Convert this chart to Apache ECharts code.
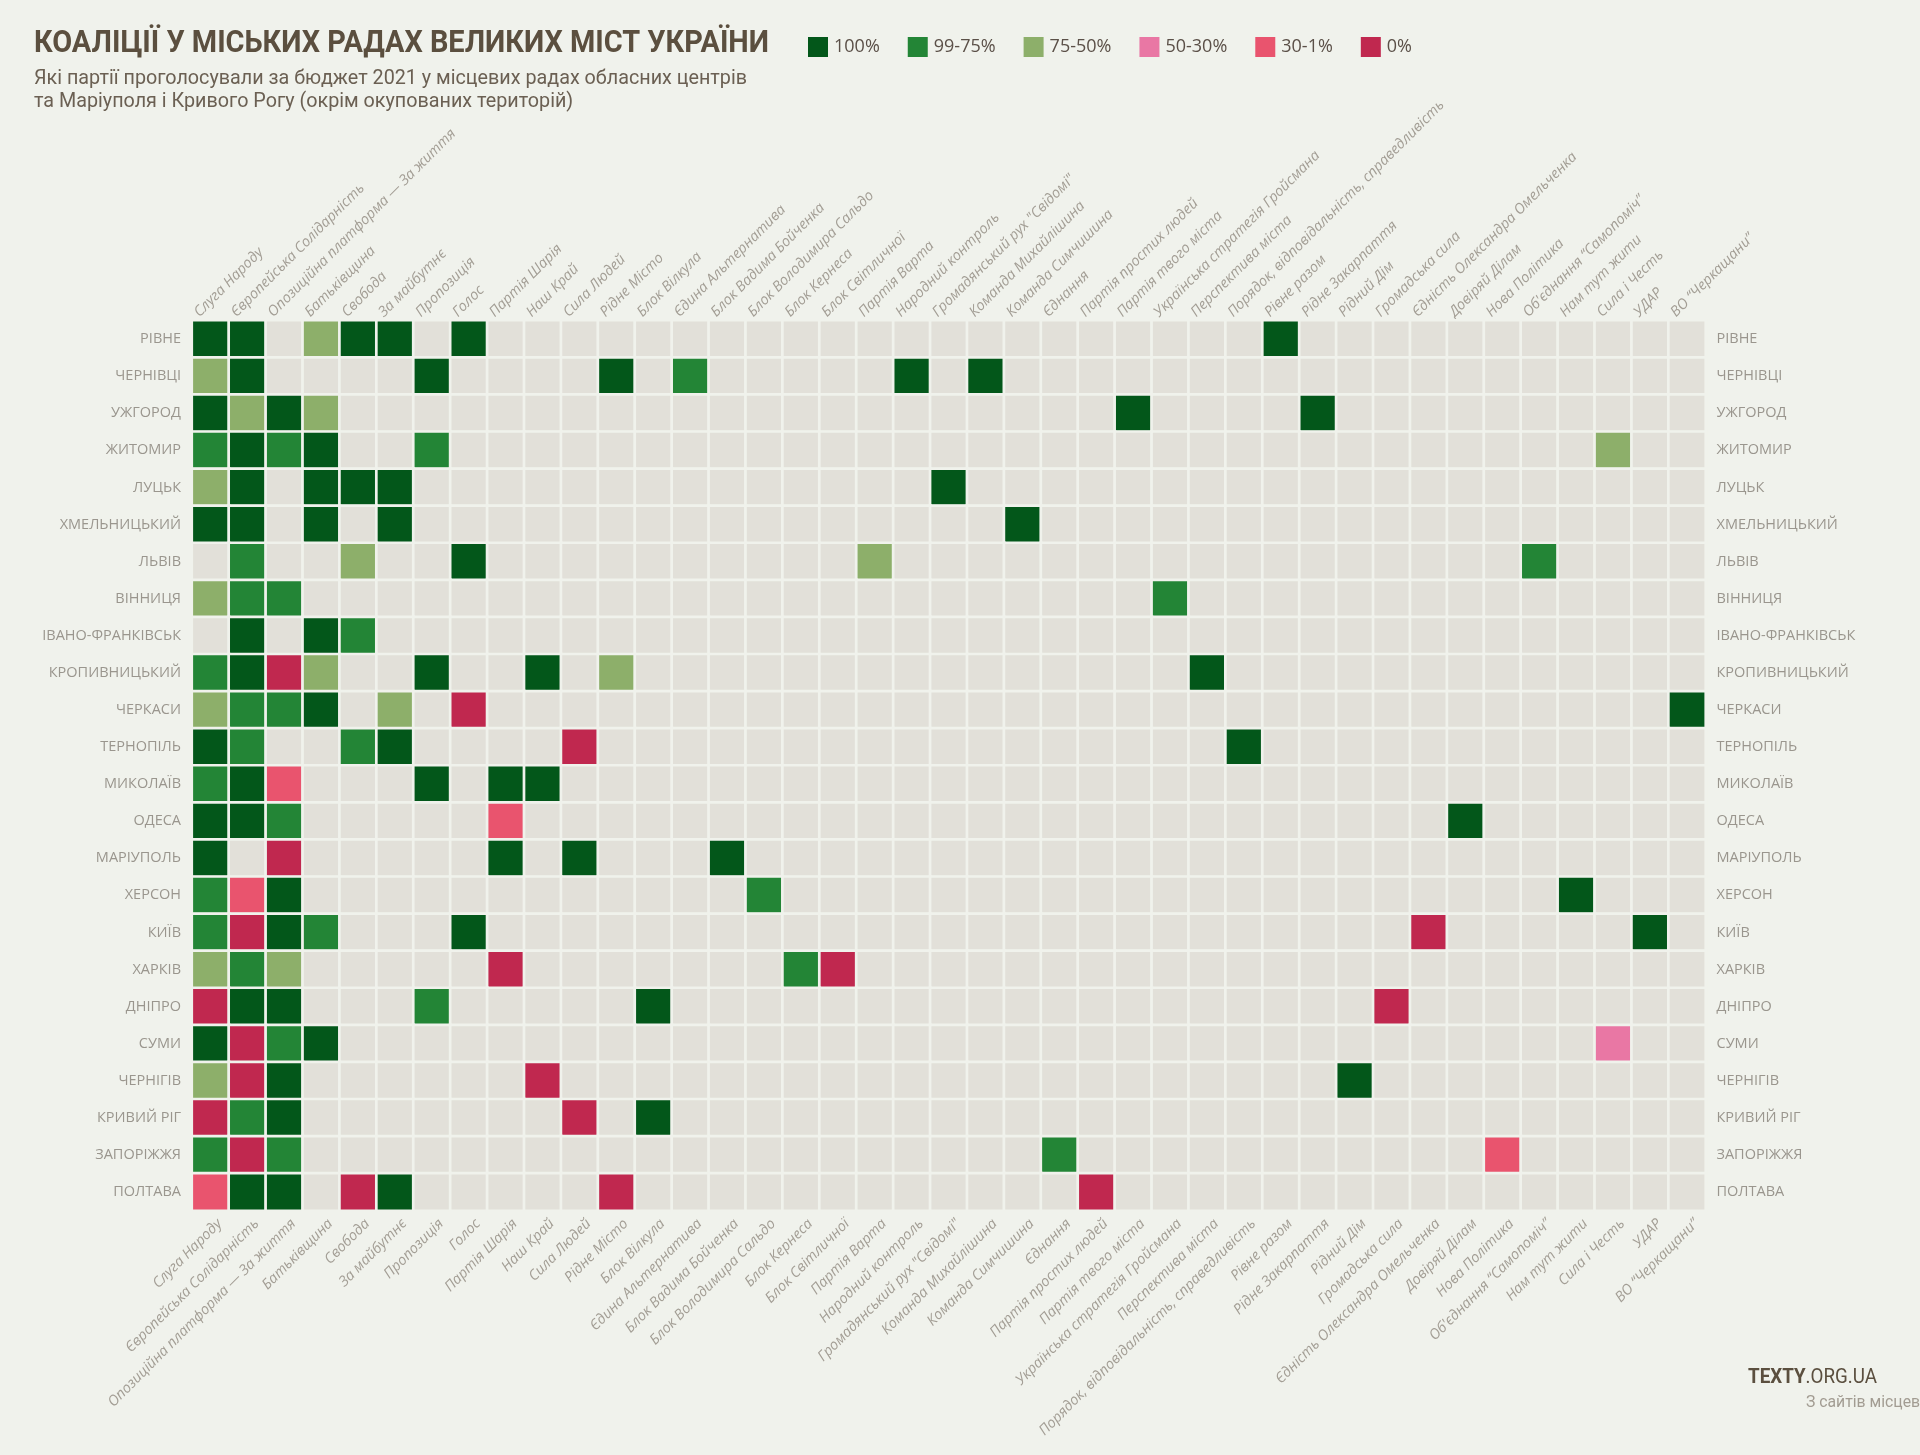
<!DOCTYPE html>
<html>
<head>
<meta charset="utf-8">
<script src="https://cdn.jsdelivr.net/npm/echarts@6/dist/echarts.min.js"></script>
<style>
html,body{margin:0;padding:0;background:#f0f2ec;}
#chart{width:1920px;height:1455px;}
</style>
</head>
<body>
<div id="chart"></div>
<script>
// ---- DATA ----
const cities = ['РІВНЕ','ЧЕРНІВЦІ','УЖГОРОД','ЖИТОМИР','ЛУЦЬК','ХМЕЛЬНИЦЬКИЙ','ЛЬВІВ','ВІННИЦЯ','ІВАНО-ФРАНКІВСЬК','КРОПИВНИЦЬКИЙ','ЧЕРКАСИ','ТЕРНОПІЛЬ','МИКОЛАЇВ','ОДЕСА','МАРІУПОЛЬ','ХЕРСОН','КИЇВ','ХАРКІВ','ДНІПРО','СУМИ','ЧЕРНІГІВ','КРИВИЙ РІГ','ЗАПОРІЖЖЯ','ПОЛТАВА'];

const parties = ['Слуга Народу','Європейська Солідарність','Опозиційна платформа — За життя','Батьківщина','Свобода','За майбутнє','Пропозиція','Голос','Партія Шарія','Наш Край','Сила Людей','Рідне Місто','Блок Вілкула','Єдина Альтернатива','Блок Вадима Бойченка','Блок Володимира Сальдо','Блок Кернеса','Блок Світличної','Партія Варта','Народний контроль','Громадянський рух "Свідомі"','Команда Михайлішина','Команда Симчишина','Єднання','Партія простих людей','Партія твого міста','Українська стратегія Гройсмана','Перспектива міста','Порядок, відповідальність, справедливість','Рівне разом','Рідне Закарпаття','Рідний Дім','Громадська сила','Єдність Олександра Омельченка','Довіряй Ділам','Нова Політика','Об\'єднання “Самопоміч”','Нам тут жити','Сила і Честь','УДАР','ВО “Черкащани”'];

// share of faction that voted for the budget: 1=100%, 2=99-75%, 3=75-50%, 4=50-30%, 5=30-1%, 6=0%, 0=no faction
const levelLabels = ['100%','99-75%','75-50%','50-30%','30-1%','0%'];

// one string per city, one digit per party (groups of 10 for readability)
const votes = [
  '1103110100 0000000000 0000000001 0000000000 0', // РІВНЕ
  '3100001000 0102000001 0100000000 0000000000 0', // ЧЕРНІВЦІ
  '1313000000 0000000000 0000010000 1000000000 0', // УЖГОРОД
  '2121002000 0000000000 0000000000 0000000030 0', // ЖИТОМИР
  '3101110000 0000000000 1000000000 0000000000 0', // ЛУЦЬК
  '1101010000 0000000000 0010000000 0000000000 0', // ХМЕЛЬНИЦЬКИЙ
  '0200300100 0000000030 0000000000 0000002000 0', // ЛЬВІВ
  '3220000000 0000000000 0000002000 0000000000 0', // ВІННИЦЯ
  '0101200000 0000000000 0000000000 0000000000 0', // ІВАНО-ФРАНКІВСЬК
  '2163001001 0300000000 0000000100 0000000000 0', // КРОПИВНИЦЬКИЙ
  '3221030600 0000000000 0000000000 0000000000 1', // ЧЕРКАСИ
  '1200210000 6000000000 0000000010 0000000000 0', // ТЕРНОПІЛЬ
  '2150001011 0000000000 0000000000 0000000000 0', // МИКОЛАЇВ
  '1120000050 0000000000 0000000000 0000100000 0', // ОДЕСА
  '1060000010 1000100000 0000000000 0000000000 0', // МАРІУПОЛЬ
  '2510000000 0000020000 0000000000 0000000100 0', // ХЕРСОН
  '2612000100 0000000000 0000000000 0006000001 0', // КИЇВ
  '3230000060 0000002600 0000000000 0000000000 0', // ХАРКІВ
  '6110002000 0010000000 0000000000 0060000000 0', // ДНІПРО
  '1621000000 0000000000 0000000000 0000000040 0', // СУМИ
  '3610000006 0000000000 0000000000 0100000000 0', // ЧЕРНІГІВ
  '6210000000 6010000000 0000000000 0000000000 0', // КРИВИЙ РІГ
  '2620000000 0000000000 0002000000 0000050000 0', // ЗАПОРІЖЖЯ
  '5110610000 0600000000 0000600000 0000000000 0'  // ПОЛТАВА
];

// ---- STYLE ----
const levelColors = ['#03571a','#238536','#8daf6a','#e977a4','#e9546e','#c0284f'];
const emptyColor = '#e2e0d9';
const bg = '#f0f2ec';
const COND = "Roboto, 'Noto Sans', sans-serif";
const SANS = "'Open Sans','Noto Sans',sans-serif";

const cells = [];
votes.forEach((row, r) => {
  const s = row.replace(/\s+/g, '');
  for (let c = 0; c < parties.length; c++) cells.push([c, r, +s[c]]);
});

// label-only axes: each column split into K slots so that the slanted names can
// start near a column's left edge (top) and end near its right part (bottom)
const K = 8;
function slots(k) {
  const a = new Array(parties.length * K + 1).fill('');
  parties.forEach((p, i) => { a[i * K + k] = p; });
  return a;
}
const topSlots = slots(1);
const bottomSlots = slots(6);

// condensed look for headline texts: squeeze horizontally to the reference width
const mctx = document.createElement('canvas').getContext('2d');
function textW(txt, size, weight, fam) { mctx.font = (weight || 'normal') + ' ' + size + 'px ' + fam; return mctx.measureText(txt).width; }

const titleText = 'КОАЛІЦІЇ У МІСЬКИХ РАДАХ ВЕЛИКИХ МІСТ УКРАЇНИ';
const sub1 = 'Які партії проголосували за бюджет 2021 у місцевих радах обласних центрів';
const sub2 = 'та Маріуполя і Кривого Рогу (окрім окупованих територій)';
const titleScale = 735 / textW(titleText, 31, 'bold', COND);
const subScale = 713 / textW(sub1, 21, 'normal', COND);
const textyScale = 129 / (textW('TEXTY', 20, 'bold', COND) + textW('.ORG.UA', 20, 'normal', COND));
const srcScale = 114 / textW('З сайтів місцев', 16, 'normal', COND);

const chart = echarts.init(document.getElementById('chart'), null, {renderer: 'canvas'});

const yLabel = {fontFamily: SANS, fontSize: 14.5, color: '#9a968e'};
const xLabel = {fontFamily: SANS, fontSize: 14.5, fontStyle: 'italic', color: '#a39e95', interval: 0};
const noLine = {axisLine: {show: false}, axisTick: {show: false}, splitLine: {show: false}};
const gridBox = {left: 192, right: 214.5, top: 320.5, height: 890, containLabel: false};

function headText(txt, x, y, scale, size, weight, color) {
  return {type: 'text', x: x, y: y, scaleX: scale, silent: true,
    style: {text: txt, fontFamily: COND, fontSize: size, fontWeight: weight, fill: color, align: 'left', verticalAlign: 'middle'}};
}

chart.setOption({
  backgroundColor: bg,
  animation: false,
  graphic: [
    headText(titleText, 34, 44, titleScale, 31, 'bold', '#5b4f3f'),
    headText(sub1, 34, 79, subScale, 21, 'normal', '#6b6053'),
    headText(sub2, 34, 102, subScale, 21, 'normal', '#6b6053'),
    {type: 'text', x: 1748, y: 1378, scaleX: textyScale, silent: true,
     style: {text: '{b|TEXTY}{r|.ORG.UA}', verticalAlign: 'middle', rich: {
       b: {fontFamily: COND, fontWeight: 'bold', fontSize: 20, fill: '#5b4f3f', color: '#5b4f3f'},
       r: {fontFamily: COND, fontWeight: 'normal', fontSize: 20, fill: '#5b4f3f', color: '#5b4f3f'}}}},
    headText('З сайтів місцевих рад', 1806, 1403, srcScale, 16, 'normal', '#a29c92')
  ],
  visualMap: {
    type: 'piecewise', orient: 'horizontal', left: 808, top: 37, padding: 0,
    seriesIndex: 0, selectedMode: false,
    itemWidth: 20, itemHeight: 20, itemGap: 28, textGap: 6, itemSymbol: 'rect',
    pieces: levelLabels.map((l, i) => ({value: i + 1, label: l, color: levelColors[i]})),
    outOfRange: {color: emptyColor},
    textStyle: {fontFamily: SANS, fontSize: 18, color: '#5b5048'}
  },
  grid: [gridBox, Object.assign({}, gridBox)],
  xAxis: [
    Object.assign({type: 'category', gridIndex: 0, data: parties, position: 'bottom', axisLabel: {show: false}}, noLine),
    Object.assign({type: 'category', gridIndex: 1, data: topSlots, boundaryGap: false, position: 'top',
      axisLabel: Object.assign({margin: 6, rotate: 45}, xLabel)}, noLine),
    Object.assign({type: 'category', gridIndex: 1, data: bottomSlots, boundaryGap: false, position: 'bottom',
      axisLabel: Object.assign({margin: 11, rotate: 45}, xLabel)}, noLine)
  ],
  yAxis: [
    Object.assign({type: 'category', gridIndex: 0, data: cities, inverse: true, position: 'left',
      axisLabel: Object.assign({margin: 11}, yLabel)}, noLine),
    Object.assign({type: 'category', gridIndex: 0, data: cities, inverse: true, position: 'right',
      axisLabel: Object.assign({margin: 11}, yLabel)}, noLine),
    {type: 'value', gridIndex: 1, show: false}
  ],
  series: [{
    type: 'heatmap', xAxisIndex: 0, yAxisIndex: 0, data: cells, silent: true,
    itemStyle: {borderColor: bg, borderWidth: 2.7},
    emphasis: {disabled: true}
  }]
});
</script>
</body>
</html>
